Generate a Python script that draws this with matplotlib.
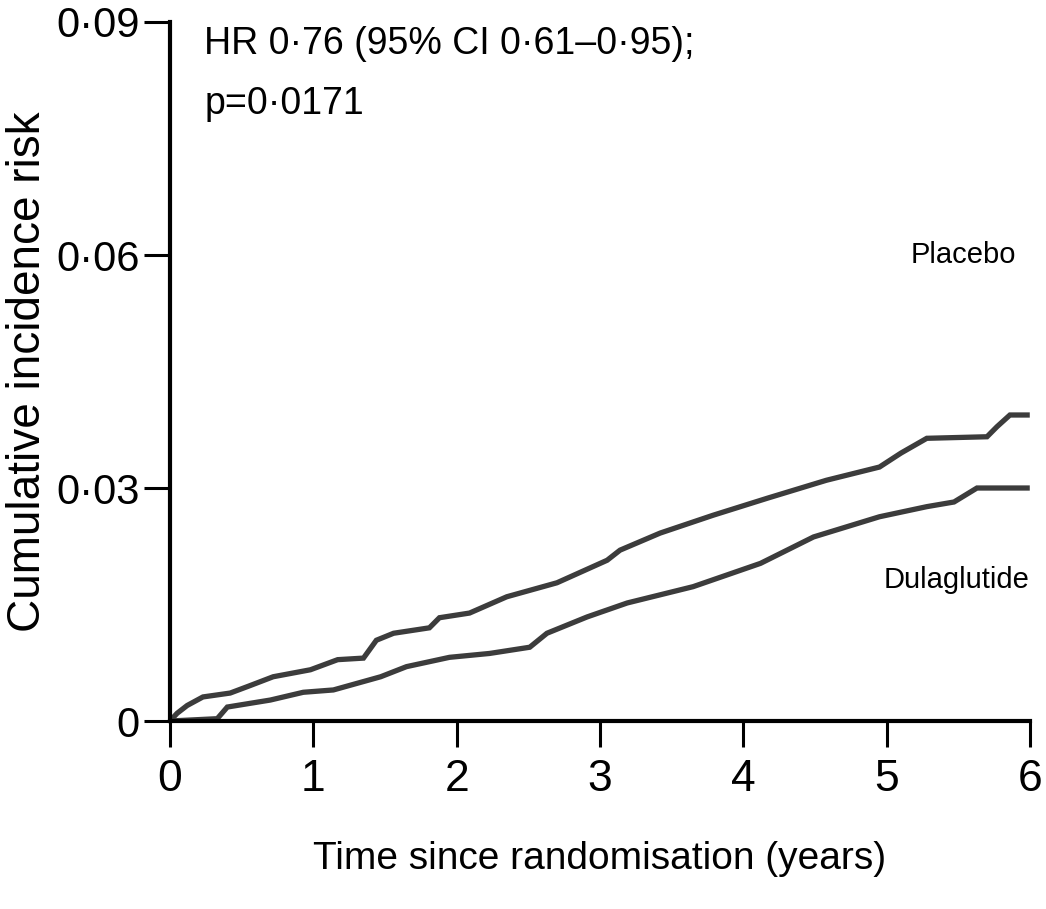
import matplotlib
matplotlib.use("Agg")
import matplotlib.pyplot as plt

# cumulative incidence
placebo_t = [0, 0.05, 0.12, 0.23, 0.42, 0.55, 0.72, 0.98, 1.17, 1.35, 1.44, 1.56, 1.81, 1.88,
             2.09, 2.35, 2.70, 3.05, 3.14, 3.42, 3.79, 4.17, 4.58, 4.95, 5.10, 5.28, 5.70,
             5.77, 5.86, 5.98]
placebo_y = [0, 0.0010, 0.0020, 0.0031, 0.0036, 0.0045, 0.0057, 0.0066, 0.0079, 0.0081, 0.0104,
             0.0113, 0.0120, 0.0133, 0.0139, 0.0160, 0.0178, 0.0207, 0.0220, 0.0242, 0.0265,
             0.0287, 0.0310, 0.0327, 0.0345, 0.0364, 0.0366, 0.0379, 0.0394, 0.0394]

dula_t = [0, 0.33, 0.40, 0.70, 0.93, 1.14, 1.47, 1.65, 1.95, 2.23, 2.51, 2.63, 2.91, 3.19,
          3.65, 4.12, 4.49, 4.95, 5.28, 5.47, 5.63, 5.98]
dula_y = [0, 0.0003, 0.0018, 0.0027, 0.0037, 0.0040, 0.0057, 0.0070, 0.0082, 0.0087, 0.0095,
          0.0113, 0.0134, 0.0152, 0.0173, 0.0203, 0.0237, 0.0263, 0.0276, 0.0282, 0.0300, 0.0300]

xticks = [0, 1, 2, 3, 4, 5, 6]
yticks = [0, 0.03, 0.06, 0.09]
ytick_labels = ["0", "0\u00b703", "0\u00b706", "0\u00b709"]

plt.rcParams["font.family"] = ["Liberation Sans", "DejaVu Sans"]
line_col = "#3c3c3c"

fig = plt.figure(figsize=(10.46, 9.09), dpi=100)
ax = fig.add_axes([0.1625, 0.2068, 0.8222, 0.769])

ax.plot(placebo_t, placebo_y, color=line_col, lw=3.8, solid_joinstyle="miter")
ax.plot(dula_t, dula_y, color=line_col, lw=3.8, solid_joinstyle="miter")

ax.set_xlim(0, 6)
ax.set_ylim(0, 0.09)
ax.set_xticks(xticks)
ax.set_xticklabels([str(v) for v in xticks], fontsize=32)
ax.set_yticks(yticks)
ax.set_yticklabels(ytick_labels, fontsize=30)

for s in ["top", "right"]:
    ax.spines[s].set_visible(False)
for s in ["left", "bottom"]:
    ax.spines[s].set_linewidth(3)
ax.tick_params(direction="out", length=19, width=2.2)
ax.tick_params(axis="x", pad=8)
ax.tick_params(axis="y", pad=3)

ax.set_xlabel("Time since randomisation (years)", fontsize=28)
ax.xaxis.set_label_coords(0.5, -0.172)
ax.set_ylabel("Cumulative incidence risk", fontsize=33)
ax.yaxis.set_label_coords(-0.14, 0.5)

ax.text(0.24, 0.0895, "HR 0\u00b776 (95% CI 0\u00b761\u20130\u00b795);", fontsize=27, va="top")
ax.text(0.24, 0.0818, "p=0\u00b70171", fontsize=27, va="top")
ax.text(5.90, 0.0600, "Placebo", fontsize=21, ha="right", va="center")
ax.text(6.00, 0.0182, "Dulaglutide", fontsize=21, ha="right", va="center")

fig.savefig("out.png", dpi=100)
